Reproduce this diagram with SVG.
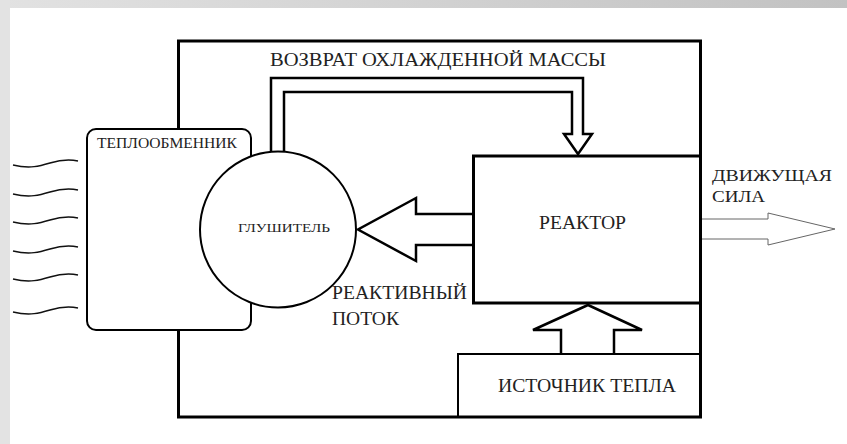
<svg xmlns="http://www.w3.org/2000/svg" width="847" height="444" viewBox="0 0 847 444">
<defs>
<linearGradient id="topband" x1="0" y1="0" x2="1" y2="0">
<stop offset="0" stop-color="#e2e2e2"/>
<stop offset="1" stop-color="#c2c2c2"/>
</linearGradient>
</defs>
<style>
.ln{fill:none;stroke:#000;stroke-linejoin:miter}
text{font-family:'Liberation Serif','DejaVu Serif','Times New Roman',serif;fill:#222}
.wave{fill:none;stroke:#111;stroke-width:1.5}
</style>
<rect x="0" y="0" width="847" height="444" fill="#fff"/>
<rect x="0" y="0" width="847" height="8" fill="url(#topband)"/>
<rect x="0" y="0" width="10" height="444" fill="#e3e3e3"/>

<g id="frame">
<rect class="ln" x="178.5" y="41" width="522" height="376" stroke-width="3"/>
</g>

<g id="heat-exchanger">
<rect x="87" y="129" width="164" height="201" rx="9" fill="#fff" stroke="#000" stroke-width="2"/>
<text x="97" y="148" font-family="Liberation Serif, serif" font-size="14" textLength="140" lengthAdjust="spacingAndGlyphs">ТЕПЛООБМЕННИК</text>
</g>

<g id="waves">
<path class="wave" d="M13,165 C30,169 40,166 50,163 S68,159 78,161"/>
<path class="wave" d="M13,194 C30,198 40,195 50,192 S68,188 78,190"/>
<path class="wave" d="M13,222 C30,226 40,223 50,220 S68,216 78,218"/>
<path class="wave" d="M13,251 C30,255 40,252 50,249 S68,245 78,247"/>
<path class="wave" d="M13,279 C30,283 40,280 50,277 S68,273 78,275"/>
<path class="wave" d="M13,312 C30,316 40,313 50,310 S68,306 78,308"/>
</g>

<g id="connectors">
<path class="ln" stroke-width="2.5" d="M271,152 V78 H583 V134 H592 L578,154 L564,134 H572 V92 H284 V152"/>
<path class="ln" stroke-width="2.5" fill="#fff" d="M473,214 H416 V198 L358,229.5 L416,261 V245 H473"/>
<path class="ln" stroke-width="2.5" fill="#fff" d="M561,354 V330 H533 L588,305 L642,330 H614 V354"/>
<path fill="#fff" stroke="#666" stroke-width="1" d="M701,219 H768 V213 L835,229 L768,245 V239 H701"/>
</g>

<g id="muffler">
<circle cx="278" cy="229.5" r="78" fill="#fff" stroke="#000" stroke-width="2"/>
<text x="238" y="232" font-family="Liberation Serif, serif" font-size="13" textLength="92" lengthAdjust="spacingAndGlyphs">ГЛУШИТЕЛЬ</text>
</g>

<g id="reactor">
<rect class="ln" x="473.5" y="156" width="227" height="147" stroke-width="3" fill="#fff"/>
<text x="539" y="229" font-family="Liberation Serif, serif" font-size="18" textLength="87" lengthAdjust="spacingAndGlyphs">РЕАКТОР</text>
</g>

<g id="heat-source">
<rect class="ln" x="458" y="354" width="242" height="63" stroke-width="2"/>
<text x="498" y="392" font-family="Liberation Serif, serif" font-size="18" textLength="178" lengthAdjust="spacingAndGlyphs">ИСТОЧНИК ТЕПЛА</text>
</g>

<g id="labels" font-family="Liberation Serif, serif">
<text x="270" y="66" font-size="18" textLength="336" lengthAdjust="spacingAndGlyphs">ВОЗВРАТ ОХЛАЖДЕННОЙ МАССЫ</text>
<text x="712" y="181" font-size="17" textLength="120" lengthAdjust="spacingAndGlyphs">ДВИЖУЩАЯ</text>
<text x="712" y="202" font-size="17" textLength="53" lengthAdjust="spacingAndGlyphs">СИЛА</text>
<text x="332" y="299" font-size="18" textLength="135" lengthAdjust="spacingAndGlyphs">РЕАКТИВНЫЙ</text>
<text x="332" y="325" font-size="18" textLength="67" lengthAdjust="spacingAndGlyphs">ПОТОК</text>
</g>
</svg>
